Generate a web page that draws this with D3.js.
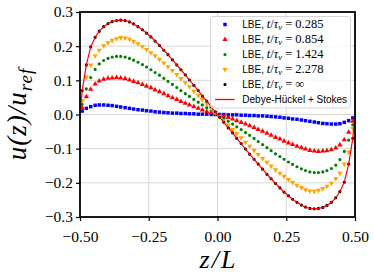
<!DOCTYPE html>
<html lang="en">
<head>
<meta charset="utf-8">
<title>Velocity profile u(z)/u_ref</title>
<script src="https://cdn.jsdelivr.net/npm/d3@7"></script>
<style>
  body { margin: 0; background: #fff; }
</style>
</head>
<body>
<script>

// lattice nodes across the channel, z/L
var zNodes = [-0.492, -0.477, -0.461, -0.445, -0.430, -0.414, -0.398, -0.383, -0.367, -0.352, -0.336, -0.320, -0.305, -0.289, -0.273, -0.258,
              -0.242, -0.227, -0.211, -0.195, -0.180, -0.164, -0.148, -0.133, -0.117, -0.102, -0.086, -0.070, -0.055, -0.039, -0.023, -0.008,
               0.008,  0.023,  0.039,  0.055,  0.070,  0.086,  0.102,  0.117,  0.133,  0.148,  0.164,  0.180,  0.195,  0.211,  0.227,  0.242,
               0.258,  0.273,  0.289,  0.305,  0.320,  0.336,  0.352,  0.367,  0.383,  0.398,  0.414,  0.430,  0.445,  0.461,  0.477,  0.492];

// LBE, t/tau = 0.285
var uT0285 = [0.010, 0.018, 0.023, 0.027, 0.028, 0.028, 0.027, 0.026, 0.024, 0.022, 0.020, 0.018, 0.016, 0.014, 0.013, 0.011,
              0.010, 0.008, 0.007, 0.006, 0.005, 0.004, 0.004, 0.003, 0.003, 0.002, 0.002, 0.001, 0.001, 0.001, 0.000, 0.000,
              0.000, 0.000, -0.001, -0.001, -0.001, -0.002, -0.002, -0.003, -0.003, -0.004, -0.004, -0.005, -0.006, -0.007, -0.008, -0.010,
              -0.011, -0.013, -0.014, -0.016, -0.018, -0.020, -0.022, -0.024, -0.026, -0.027, -0.028, -0.028, -0.027, -0.023, -0.018, -0.010];

// LBE, t/tau = 0.854
var uT0854 = [0.020, 0.052, 0.074, 0.089, 0.098, 0.103, 0.106, 0.107, 0.108, 0.107, 0.105, 0.101, 0.097, 0.093, 0.088, 0.083,
              0.078, 0.072, 0.067, 0.061, 0.055, 0.049, 0.044, 0.038, 0.033, 0.028, 0.023, 0.018, 0.013, 0.009, 0.005, 0.002,
              -0.002, -0.005, -0.009, -0.013, -0.018, -0.023, -0.028, -0.033, -0.038, -0.044, -0.049, -0.055, -0.061, -0.067, -0.072, -0.078,
              -0.083, -0.088, -0.093, -0.097, -0.101, -0.105, -0.107, -0.108, -0.107, -0.106, -0.103, -0.098, -0.089, -0.074, -0.052, -0.020];

// LBE, t/tau = 1.424
var uT1424 = [0.030, 0.075, 0.108, 0.132, 0.148, 0.158, 0.164, 0.168, 0.170, 0.170, 0.168, 0.164, 0.159, 0.153, 0.146, 0.139,
              0.131, 0.123, 0.115, 0.106, 0.097, 0.088, 0.079, 0.070, 0.061, 0.053, 0.044, 0.036, 0.028, 0.020, 0.012, 0.004,
              -0.004, -0.012, -0.020, -0.028, -0.036, -0.044, -0.053, -0.061, -0.070, -0.079, -0.088, -0.097, -0.106, -0.115, -0.123, -0.131,
              -0.139, -0.146, -0.153, -0.159, -0.164, -0.168, -0.170, -0.170, -0.168, -0.164, -0.158, -0.148, -0.132, -0.108, -0.075, -0.030];

// LBE, t/tau = 2.278
var uT2278 = [0.040, 0.110, 0.145, 0.172, 0.188, 0.201, 0.210, 0.217, 0.222, 0.225, 0.224, 0.220, 0.214, 0.207, 0.199, 0.190,
              0.181, 0.172, 0.162, 0.151, 0.140, 0.129, 0.117, 0.105, 0.093, 0.081, 0.068, 0.056, 0.044, 0.031, 0.018, 0.006,
              -0.006, -0.018, -0.031, -0.044, -0.056, -0.068, -0.081, -0.093, -0.105, -0.117, -0.129, -0.140, -0.151, -0.162, -0.172, -0.181,
              -0.190, -0.199, -0.207, -0.214, -0.220, -0.224, -0.225, -0.222, -0.217, -0.210, -0.201, -0.188, -0.172, -0.145, -0.110, -0.040];

// LBE, steady state (t/tau = inf)
var uTinf = [0.070, 0.145, 0.198, 0.226, 0.244, 0.257, 0.266, 0.272, 0.275, 0.276, 0.275, 0.271, 0.265, 0.257, 0.248, 0.238,
             0.227, 0.215, 0.202, 0.188, 0.175, 0.160, 0.145, 0.131, 0.116, 0.101, 0.085, 0.070, 0.054, 0.039, 0.023, 0.008,
             -0.008, -0.023, -0.039, -0.054, -0.070, -0.085, -0.101, -0.116, -0.131, -0.145, -0.160, -0.175, -0.188, -0.202, -0.215, -0.227,
             -0.238, -0.248, -0.257, -0.265, -0.271, -0.275, -0.276, -0.275, -0.272, -0.266, -0.257, -0.244, -0.226, -0.198, -0.145, -0.070];

// Debye-Hueckel + Stokes (theory curve)
var zTheory = [-0.500, -0.492, -0.477, -0.461, -0.445, -0.430, -0.414, -0.398, -0.383, -0.367, -0.352, -0.336, -0.320, -0.305, -0.289, -0.273, -0.258,
               -0.242, -0.227, -0.211, -0.195, -0.180, -0.164, -0.148, -0.133, -0.117, -0.102, -0.086, -0.070, -0.055, -0.039, -0.023, -0.008,
               0.008, 0.023, 0.039, 0.055, 0.070, 0.086, 0.102, 0.117, 0.133, 0.148, 0.164, 0.180, 0.195, 0.211, 0.227, 0.242,
               0.258, 0.273, 0.289, 0.305, 0.320, 0.336, 0.352, 0.367, 0.383, 0.398, 0.414, 0.430, 0.445, 0.461, 0.477, 0.492, 0.500];
var uTheory = [0.000, 0.070, 0.145, 0.198, 0.226, 0.244, 0.257, 0.266, 0.272, 0.275, 0.276, 0.275, 0.271, 0.265, 0.257, 0.248, 0.238,
               0.227, 0.215, 0.202, 0.188, 0.175, 0.160, 0.145, 0.131, 0.116, 0.101, 0.085, 0.070, 0.054, 0.039, 0.023, 0.008,
               -0.008, -0.023, -0.039, -0.054, -0.070, -0.085, -0.101, -0.116, -0.131, -0.145, -0.160, -0.175, -0.188, -0.202, -0.215, -0.227,
               -0.238, -0.248, -0.257, -0.265, -0.271, -0.275, -0.276, -0.275, -0.272, -0.266, -0.257, -0.244, -0.226, -0.198, -0.145, -0.070, 0.000];

var legendTimes = ["0.285", "0.854", "1.424", "2.278", "\u221e"];

var xTicks = [-0.5, -0.25, 0, 0.25, 0.5];
var xTickLabels = ["\u22120.50", "\u22120.25", "0.00", "0.25", "0.50"];
var yTicks = [0.3, 0.2, 0.1, 0, -0.1, -0.2, -0.3];
var yTickLabels = ["0.3", "0.2", "0.1", "0.0", "\u22120.1", "\u22120.2", "\u22120.3"];

//Width and height
var w = 374;
var h = 279;
var plotL = 80, plotR = 355, plotT = 12, plotB = 217;

var serif = "'Liberation Serif', 'DejaVu Serif', serif";
var sans = "'Liberation Sans', Arial, sans-serif";

// marker table for the LBE series
var series = [
	{ values: uT0285, color: "#0000ff", type: d3.symbolSquare, size: 12, flip: false },
	{ values: uT0854, color: "#ff0000", type: d3.symbolTriangle, size: 12, flip: false },
	{ values: uT1424, color: "#008000", type: d3.symbolCircle, size: 8, flip: false },
	{ values: uT2278, color: "#ffa500", type: d3.symbolTriangle, size: 12, flip: true },
	{ values: uTinf, color: "#000000", type: d3.symbolCircle, size: 8, flip: false }
];

var svg = d3.select("body")
			.append("svg")
			.attr("width", w)
			.attr("height", h);

var xScale = d3.scaleLinear().domain([-0.5, 0.5]).range([plotL, plotR]);
var yScale = d3.scaleLinear().domain([-0.3, 0.3]).range([plotB, plotT]);

//grid
svg.append("g").selectAll("line")
   .data(xTicks.slice(1, -1))
   .enter().append("line")
   .attr("x1", function(d) { return xScale(d); })
   .attr("x2", function(d) { return xScale(d); })
   .attr("y1", plotT).attr("y2", plotB)
   .attr("stroke", "#d4d4d4").attr("stroke-width", 0.9);

svg.append("g").selectAll("line")
   .data(yTicks.slice(1, -1))
   .enter().append("line")
   .attr("y1", function(d) { return yScale(d); })
   .attr("y2", function(d) { return yScale(d); })
   .attr("x1", plotL).attr("x2", plotR)
   .attr("stroke", "#d4d4d4").attr("stroke-width", 0.9);

//markers
series.forEach(function(s) {
	svg.append("g").selectAll("path")
	   .data(d3.zip(zNodes, s.values))
	   .enter().append("path")
	   .attr("d", d3.symbol().type(s.type).size(s.size))
	   .attr("transform", function(d) {
	   		return "translate(" + xScale(d[0]) + "," + yScale(d[1]) + ")" + (s.flip ? " rotate(180)" : "");
	   })
	   .attr("fill", s.color);
});

//theory line
var line = d3.line()
			 .x(function(d) { return xScale(d[0]); })
			 .y(function(d) { return yScale(d[1]); });

svg.append("path")
   .datum(d3.zip(zTheory, uTheory))
   .attr("d", line)
   .attr("fill", "none")
   .attr("stroke", "#ff0000")
   .attr("stroke-width", 1.2);

//axes
var xAxis = d3.axisBottom(xScale)
			  .tickValues(xTicks)
			  .tickFormat(function(d, i) { return xTickLabels[i]; })
			  .tickSize(4)
			  .tickPadding(10);
var gx = svg.append("g").attr("transform", "translate(0," + plotB + ")").call(xAxis);

var yAxis = d3.axisLeft(yScale)
			  .tickValues(yTicks)
			  .tickFormat(function(d, i) { return yTickLabels[i]; })
			  .tickSize(4)
			  .tickPadding(3);
var gy = svg.append("g").attr("transform", "translate(" + plotL + ",0)").call(yAxis);

[gx, gy].forEach(function(g) {
	g.select(".domain").remove();
	g.selectAll("line").attr("stroke", "#000").attr("stroke-width", 1.2);
	g.selectAll("text").attr("font-family", serif).attr("font-size", "15.5px").attr("fill", "#000");
});

//frame
svg.append("rect")
   .attr("x", plotL).attr("y", plotT)
   .attr("width", plotR - plotL).attr("height", plotB - plotT)
   .attr("fill", "none")
   .attr("stroke", "#000")
   .attr("stroke-width", 1.8);

//axis labels
var xl = svg.append("text")
			.attr("x", (plotL + plotR) / 2 + 1)
			.attr("y", 268)
			.attr("text-anchor", "middle")
			.attr("font-family", serif)
			.attr("font-size", "26px")
			.attr("font-style", "italic")
			.attr("letter-spacing", "2px");
xl.append("tspan").text("z/L");

var yl = svg.append("text")
			.attr("transform", "translate(25.5,114) rotate(-90)")
			.attr("text-anchor", "middle")
			.attr("font-family", serif)
			.attr("font-size", "27px")
			.attr("font-style", "italic")
			.attr("letter-spacing", "1px");
yl.append("tspan").text("u(z)/u");
yl.append("tspan").attr("font-size", "19px").attr("dy", 6).text("ref");

//legend
var lg = svg.append("g");
lg.append("rect")
  .attr("x", 210.5).attr("y", 16.5)
  .attr("width", 140).attr("height", 91.5)
  .attr("rx", 2.5)
  .attr("fill", "#fff").attr("fill-opacity", 0.8)
  .attr("stroke", "#cccccc").attr("stroke-width", 0.8);

var rowY = function(i) { return 24.5 + 15 * i; };

series.forEach(function(s, i) {
	lg.append("path")
	  .attr("d", d3.symbol().type(s.type).size(s.size))
	  .attr("transform", "translate(225," + rowY(i) + ")" + (s.flip ? " rotate(180)" : ""))
	  .attr("fill", s.color);

	var t = lg.append("text")
			  .attr("x", 242.3)
			  .attr("y", rowY(i) + 3.6)
			  .attr("font-size", "10px")
			  .attr("fill", "#000");
	t.append("tspan").attr("font-family", sans).text("LBE, ");
	t.append("tspan").attr("font-family", serif).attr("font-style", "italic").attr("font-size", "12.5px").text("t");
	t.append("tspan").attr("font-family", serif).attr("font-size", "12.5px").text("/");
	t.append("tspan").attr("font-family", serif).attr("font-style", "italic").attr("font-size", "12.5px").text("\u03c4");
	t.append("tspan").attr("font-family", serif).attr("font-style", "italic").attr("font-size", "8.5px").attr("dy", 2).text("\u03bd");
	t.append("tspan").attr("font-family", serif).attr("font-size", "12.5px").attr("dy", -2).text(" = " + legendTimes[i]);
});

lg.append("line")
  .attr("x1", 215).attr("x2", 234.5)
  .attr("y1", rowY(5)).attr("y2", rowY(5))
  .attr("stroke", "#ff0000").attr("stroke-width", 1.3);
lg.append("text")
  .attr("x", 242.3)
  .attr("y", rowY(5) + 3.6)
  .attr("font-family", sans)
  .attr("font-size", "10px")
  .text("Debye-H\u00fcckel + Stokes");

</script>
</body>
</html>
